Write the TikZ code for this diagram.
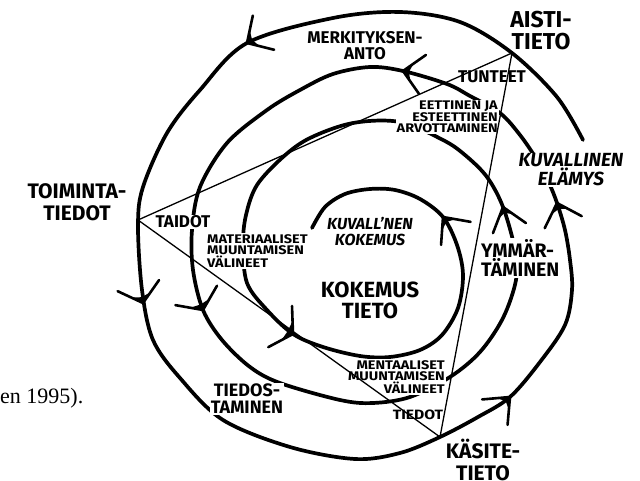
\documentclass[tikz,border=0pt]{standalone}
\usepackage{fontspec}
\setmainfont{Liberation Serif}
\setsansfont{Fira Sans}
\newfontfamily\widesf[FakeStretch=1.16]{Fira Sans}
\usetikzlibrary{calc}

\newcommand{\barb}[3]{%
  \fill ($(#1)+(#2+#3:13)$) -- (#1) -- ($(#1)+(#2-#3:13)$) -- ($(#1)+(#2:6)$) -- cycle;
  \draw[barb] ($(#1)+(#2+#3:28)$) -- (#1) -- ($(#1)+(#2-#3:28)$);}

\begin{document}
\begin{tikzpicture}[x=1pt, y=-1pt,
    spiral/.style={line width=3.7pt, line cap=round, line join=round},
    barb/.style={line width=2.6pt, line cap=round, line join=miter},
    side/.style={line width=1.3pt},
    lbig/.style={font=\sffamily\bfseries\fontsize{22}{21}\selectfont, align=center, inner sep=1pt},
    lmid/.style={font=\sffamily\bfseries\fontsize{17}{16}\selectfont, align=center, inner sep=1pt},
    lital/.style={font=\sffamily\bfseries\itshape\fontsize{17}{16}\selectfont, align=center, inner sep=1pt},
    lsmall/.style={font=\widesf\bfseries\fontsize{12.5}{11.5}\selectfont, inner sep=1pt},
    blank/.style={fill=white}]

  \useasboundingbox (0,0) rectangle (640,481);

  \draw[spiral] plot[smooth, tension=0.55] coordinates {
    (583,140) (557,97) (512,53) (460,22) (400,12) (333,18) (247,43) (200,90) (167,133) (143,187)
    (138,225) (142,290) (153,340) (180,378) (223,420) (290,447) (355,459) (400,453) (440,437)
    (478,417) (510,397) (540,362) (565,325) (572,290) (570,260) (565,230) (557,203)
    (549,183) (537,160) (520,135) (500,113) (470,96) (447,84) (403,71) (370,67) (333,74) (300,90)
    (267,110) (227,143) (200,187) (192,230) (193,270) (203,310) (222,340) (250,367) (280,383)
    (340,400) (373,403) (410,397) (450,377) (480,352) (503,318) (516,280) (515,250) (503,207)
    (487,177) (465,155) (443,140) (400,122) (353,123) (310,138) (283,157) (257,185) (246,215)
    (243,245) (247,283) (267,310) (293,334) (323,347) (360,356) (390,357) (420,350) (442,335)
    (458,308) (463,275) (457,245) (443,217) (420,199) (395,190) (370,189) (345,194) (325,207) (312,228)};

  \node[lbig, font=\sffamily\bfseries\fontsize{23}{22}\selectfont] (aisti) at (541,31) {AISTI-\\TIETO};
  \node[lmid] (merkitys) at (365,46) {MERKITYKSEN-\\ANTO};
  \node[lmid] (tunteet) at (492,77) {TUNTEET};
  \node[lsmall, blank, align=right, anchor=east] (arvot) at (499,117) {EETTINEN JA\\ESTEETTINEN\\ARVOTTAMINEN};
  \node[lital, blank, font=\sffamily\bfseries\itshape\fontsize{19}{16}\selectfont] (elamys) at (571,170) {KUVALLINEN\\ELÄMYS};
  \node[lmid, font=\sffamily\bfseries\fontsize{21}{22}\selectfont] (toiminta) at (77,202) {TOIMINTA-\\TIEDOT};
  \node[lmid, blank] (taidot) at (183,222) {TAIDOT};
  \node[lsmall, blank, align=left, anchor=west] (materia) at (206,251) {MATERIAALISET\\MUUNTAMISEN\\VÄLINEET};
  \node[lital, font=\sffamily\bfseries\itshape\fontsize{16}{16}\selectfont] (kuvkok) at (370,232) {KUVALL'NEN\\KOKEMUS};
  \node[lbig] (kokemus) at (370,300) {KOKEMUS\\TIETO};
  \node[lmid, blank, align=left, anchor=west, font=\sffamily\bfseries\fontsize{19.5}{18}\selectfont] (ymmar) at (480,258) {YMMÄR-\\TÄMINEN};
  \node[lsmall, blank, align=right, anchor=east] (mentaa) at (446,377) {MENTAALISET\\MUUNTAMISEN\\VÄLINEET};
  \node[lsmall, font=\widesf\bfseries\fontsize{13.5}{14}\selectfont] (tiedot) at (418,415) {TIEDOT};
  \node[lmid, blank, font=\sffamily\bfseries\fontsize{18}{17}\selectfont] (tiedos) at (247,399) {TIEDOS-\\TAMINEN};
  \node[lbig, font=\sffamily\bfseries\fontsize{21}{22}\selectfont] (kasite) at (483,460) {KÄSITE-\\TIETO};
  \node[anchor=base west, inner sep=0, font=\fontsize{22}{24}\selectfont] (lahde) at (0,403) {en 1995).};

  \barb{247,43}{-32}{46}
  \barb{403,71}{10}{45}
  \barb{143,303}{-105}{50}
  \barb{203,310}{-115}{55}
  \barb{293,334}{210}{58}
  \barb{510,397}{135}{40}
  \barb{503,207}{73}{38}
  \barb{557,203}{72}{44}
  \barb{443,217}{52}{42}

  \coordinate (aisti-v) at (512,53);
  \coordinate (toim-v) at (138,220);
  \coordinate (kasite-v) at (440,437);
  \draw[side] (toim-v) -- (aisti-v) -- (kasite-v) -- cycle;
\end{tikzpicture}
\end{document}
